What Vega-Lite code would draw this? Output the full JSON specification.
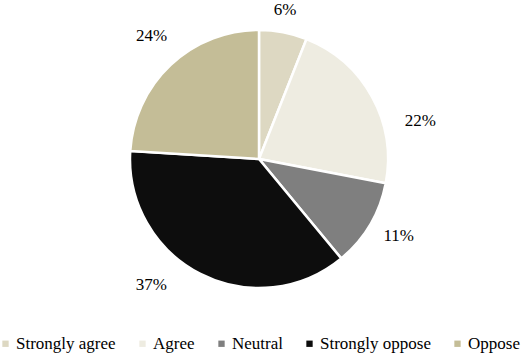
{
  "$schema": "https://vega.github.io/schema/vega-lite/v6.json",
  "width": 518,
  "height": 318,
  "padding": {"left": 0, "top": 0, "right": 8, "bottom": 39},
  "autosize": {"type": "none"},
  "background": "white",
  "data": {"values": [
    {"category": "Strongly agree", "value": 6, "label": "6%", "idx": 1},
    {"category": "Agree", "value": 22, "label": "22%", "idx": 2},
    {"category": "Neutral", "value": 11, "label": "11%", "idx": 3},
    {"category": "Strongly oppose", "value": 37, "label": "37%", "idx": 4},
    {"category": "Oppose", "value": 24, "label": "24%", "idx": 5}
  ]},
  "encoding": {
    "theta": {"field": "value", "type": "quantitative", "stack": true},
    "order": {"field": "idx", "type": "quantitative"},
    "color": {
      "field": "category", "type": "nominal",
      "scale": {
        "domain": ["Strongly agree", "Agree", "Neutral", "Strongly oppose", "Oppose"],
        "range": ["#ddd8c2", "#eeece1", "#7f7f7f", "#0d0d0d", "#c4bd97"]
      },
      "legend": {
        "title": null,
        "orient": "none",
        "legendX": -3,
        "legendY": 335,
        "direction": "horizontal",
        "symbolType": "square",
        "symbolSize": 40,
        "symbolStrokeWidth": 0,
        "labelFont": "Times New Roman",
        "labelFontSize": 17,
        "labelColor": "#000000",
        "labelOffset": 2,
        "columnPadding": 18
      }
    }
  },
  "layer": [
    {
      "mark": {"type": "arc", "outerRadius": 129, "stroke": "white", "strokeWidth": 2.5}
    },
    {
      "mark": {"type": "text", "radius": 150, "dx": -2, "dy": -2, "font": "Times New Roman", "fontSize": 17},
      "encoding": {"text": {"condition": {"test": "datum.category == 'Strongly agree'", "field": "label"}, "value": ""}, "color": {"value": "#000000"}}
    },
    {
      "mark": {"type": "text", "radius": 160, "dx": 21, "dy": 39, "font": "Times New Roman", "fontSize": 17},
      "encoding": {"text": {"condition": {"test": "datum.category == 'Agree'", "field": "label"}, "value": ""}, "color": {"value": "#000000"}}
    },
    {
      "mark": {"type": "text", "radius": 160, "dx": 2, "dy": -4, "font": "Times New Roman", "fontSize": 17},
      "encoding": {"text": {"condition": {"test": "datum.category == 'Neutral'", "field": "label"}, "value": ""}, "color": {"value": "#000000"}}
    },
    {
      "mark": {"type": "text", "radius": 160, "dx": -35, "dy": -17, "font": "Times New Roman", "fontSize": 17},
      "encoding": {"text": {"condition": {"test": "datum.category == 'Strongly oppose'", "field": "label"}, "value": ""}, "color": {"value": "#000000"}}
    },
    {
      "mark": {"type": "text", "radius": 160, "dx": 2, "dy": -6, "font": "Times New Roman", "fontSize": 17},
      "encoding": {"text": {"condition": {"test": "datum.category == 'Oppose'", "field": "label"}, "value": ""}, "color": {"value": "#000000"}}
    }
  ]
}
